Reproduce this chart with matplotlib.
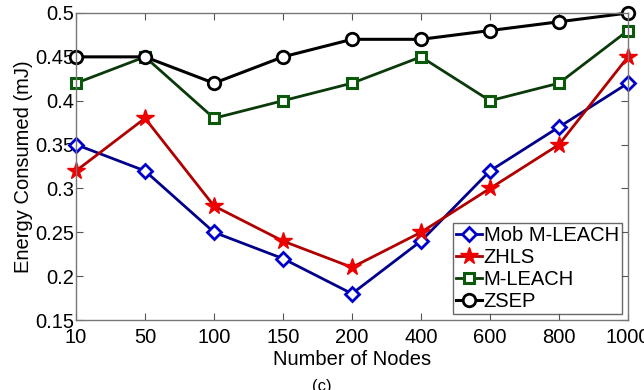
import numpy as np
import matplotlib.pyplot as plt

plt.rcParams['font.family'] = ['Liberation Sans', 'DejaVu Sans']

# Number of nodes (plotted as equally spaced categories)
nodes = ['10', '50', '100', '150', '200', '400', '600', '800', '1000']

# Energy consumed (mJ) for each protocol
mob_mleach = [0.35, 0.32, 0.25, 0.22, 0.18, 0.24, 0.32, 0.37, 0.42]
zhls = [0.32, 0.38, 0.28, 0.24, 0.21, 0.25, 0.30, 0.35, 0.45]
mleach = [0.42, 0.45, 0.38, 0.40, 0.42, 0.45, 0.40, 0.42, 0.48]
zsep = [0.45, 0.45, 0.42, 0.45, 0.47, 0.47, 0.48, 0.49, 0.50]

x = np.arange(len(nodes))

fig = plt.figure(figsize=(6.44, 3.9), dpi=100)
ax = fig.add_axes([76/644, 1 - 320/390, 552/644, 307/390])

ax.plot(x, mob_mleach, color='#00008b', lw=2, marker='D', ms=7,
        mfc='white', mec='#0000cc', mew=2, label='Mob M-LEACH', clip_on=False)
ax.plot(x, zhls, color='#b00000', lw=2, marker='*', ms=13,
        mfc='#ee0000', mec='#ee0000', mew=1, label='ZHLS', clip_on=False)
ax.plot(x, mleach, color='#0a3a0a', lw=2, marker='s', ms=7,
        mfc='white', mec='#0b5a0b', mew=2.2, label='M-LEACH', clip_on=False)
ax.plot(x, zsep, color='black', lw=2.2, marker='o', ms=9,
        mfc='white', mec='black', mew=2, label='ZSEP', clip_on=False)

ax.set_xlim(0, len(nodes) - 1)
ax.set_ylim(0.15, 0.5)
ax.set_xticks(x)
ax.set_xticklabels(nodes)
ax.set_yticks([0.15, 0.2, 0.25, 0.3, 0.35, 0.4, 0.45, 0.5])
ax.set_yticklabels(['0.15', '0.2', '0.25', '0.3', '0.35', '0.4', '0.45', '0.5'])
ax.tick_params(direction='in', top=True, right=True, labelsize=14.5,
               color='#555555', length=5)
ax.tick_params(axis='x', pad=6)
ax.tick_params(axis='y', pad=1)
for s in ax.spines.values():
    s.set_color('#777777')
    s.set_linewidth(1)

ax.set_xlabel('Number of Nodes', fontsize=14.5, labelpad=2)
ax.set_ylabel('Energy Consumed (mJ)', fontsize=14.5, labelpad=2)

leg = ax.legend(loc='lower right', fontsize=14.5, frameon=True, fancybox=False,
                borderaxespad=0.3, handlelength=1.3, handletextpad=0.1,
                borderpad=0.15, labelspacing=0.15)
leg.get_frame().set_edgecolor('#444444')
leg.get_frame().set_linewidth(1)

fig.text(0.5, 1 - 387/390, '(c)', ha='center', va='center', fontsize=12)

fig.savefig('out.png', dpi=100)
